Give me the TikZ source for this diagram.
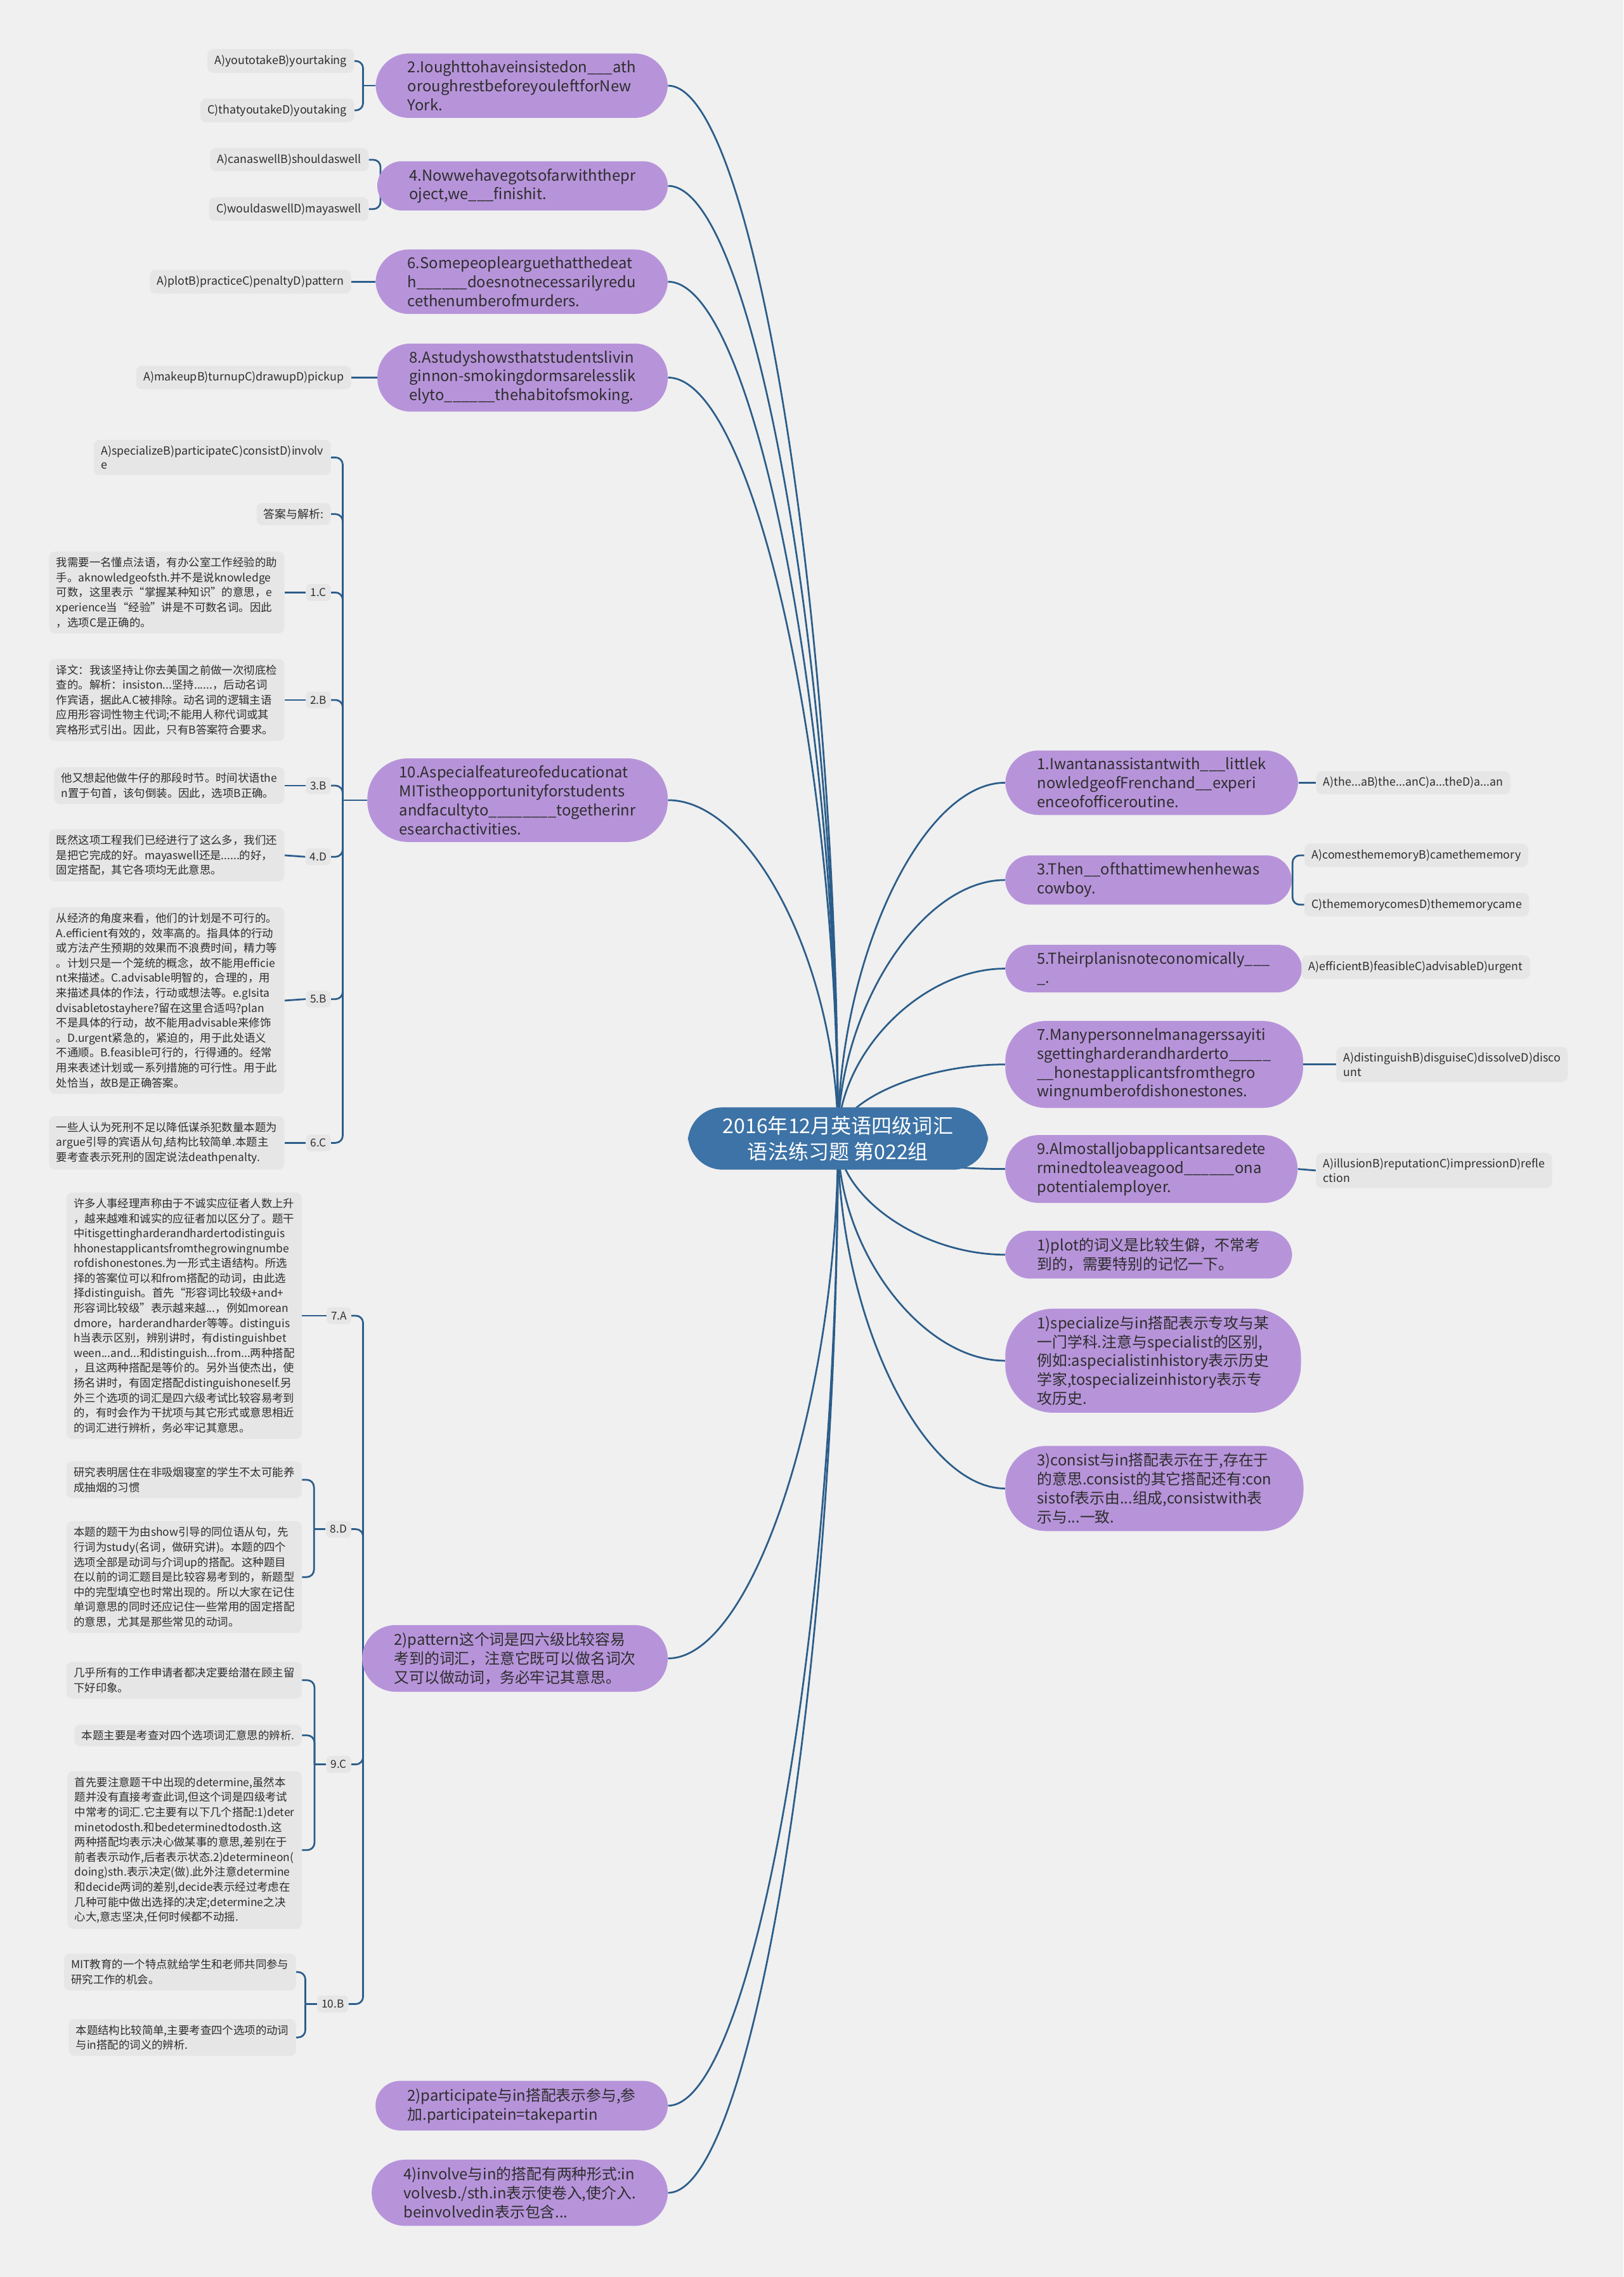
\documentclass[tikz,border=0pt]{standalone}
\usepackage{fontspec}
\setmainfont{Noto Sans CJK SC}
\usetikzlibrary{calc}
\definecolor{PageGray}{RGB}{240,240,240}
\definecolor{LeafGray}{RGB}{230,230,230}
\definecolor{TopicPurple}{RGB}{183,148,218}
\definecolor{RootBlue}{RGB}{61,115,166}
\definecolor{LinkBlue}{RGB}{43,93,138}
\definecolor{InkGray}{RGB}{45,45,45}
\pgfdeclarelayer{back}
\pgfdeclarelayer{links}
\pgfsetlayers{back,links,main}
\tikzset{
  root/.style={fill=RootBlue,text=white,rounded corners=24pt,align=center,
    inner xsep=24pt,inner ysep=6pt,font=\fontsize{14}{18}\selectfont},
  topic/.style={fill=TopicPurple,text=InkGray,rounded corners=#1,align=left,
    inner xsep=22pt,inner ysep=5pt,font=\fontsize{10.4}{13}\selectfont},
  topic/.default=23pt,
  opt/.style={fill=LeafGray,text=InkGray,rounded corners=4pt,align=left,
    inner xsep=5pt,inner ysep=4pt,font=\fontsize{7.8}{9.8}\selectfont},
  note/.style={fill=LeafGray,text=InkGray,rounded corners=4pt,align=left,
    inner xsep=5pt,inner ysep=4pt,font=\fontsize{7.6}{10.3}\selectfont},
  tag/.style={fill=LeafGray,text=InkGray,rounded corners=3pt,
    inner sep=3pt,font=\fontsize{7.5}{9}\selectfont},
  link/.style={draw=LinkBlue,line width=1.2pt},
  brace/.style={link,rounded corners=5pt},
}

\begin{document}
\begin{tikzpicture}[x=1pt,y=-1pt]
\useasboundingbox (0,0) rectangle (1118,1568);
\begin{pgfonlayer}{back}
\fill[PageGray] (0,0) rectangle (1118,1568);
\end{pgfonlayer}

% centre
\node[root] (root) at (577,784) {2016年12月英语四级词汇\\语法练习题 第022组};

% left topics
\node[topic,anchor=east] (q2) at (460,59) {2.Ioughttohaveinsistedon\_\_\_ath\\oroughrestbeforeyouleftforNew\\York.};
\node[topic=17pt,anchor=east] (q4) at (460,128) {4.Nowwehavegotsofarwiththepr\\oject,we\_\_\_finishit.};
\node[topic,anchor=east] (q6) at (460,194) {6.Somepeoplearguethatthedeat\\h\_\_\_\_\_\_doesnotnecessarilyredu\\cethenumberofmurders.};
\node[topic,anchor=east] (q8) at (460,260) {8.Astudyshowsthatstudentslivin\\ginnon-smokingdormsarelesslik\\elyto\_\_\_\_\_\_thehabitofsmoking.};
\node[topic=28pt,anchor=east] (q10) at (460,551) {10.Aspecialfeatureofeducationat\\MITistheopportunityforstudents\\andfacultyto\_\_\_\_\_\_\_\_togetherinr\\esearchactivities.};
\node[topic,anchor=east] (pat) at (460,1142) {2)pattern这个词是四六级比较容易\\考到的词汇，注意它既可以做名词次\\又可以做动词，务必牢记其意思。};
\node[topic=17pt,anchor=east] (part) at (460,1450) {2)participate与in搭配表示参与,参\\加.participatein=takepartin};
\node[topic,anchor=east] (invol) at (460,1510) {4)involve与in的搭配有两种形式:in\\volvesb./sth.in表示使卷入,使介入.\\beinvolvedin表示包含...};

% right topics
\node[topic,anchor=west] (q1) at (692,539) {1.Iwantanassistantwith\_\_\_littlek\\nowledgeofFrenchand\_\_experi\\enceofofficeroutine.};
\node[topic=17pt,anchor=west] (q3) at (692,606) {3.Then\_\_ofthattimewhenhewas\\cowboy.};
\node[topic=17pt,anchor=west] (q5) at (692,667) {5.Theirplanisnoteconomically\_\_\_\\\_.};
\node[topic=28pt,anchor=west] (q7) at (692,733) {7.Manypersonnelmanagerssayiti\\sgettingharderandharderto\_\_\_\_\_\\\_\_honestapplicantsfromthegro\\wingnumberofdishonestones.};
\node[topic,anchor=west] (q9) at (692,805) {9.Almostalljobapplicantsaredete\\rminedtoleaveagood\_\_\_\_\_\_ona\\potentialemployer.};
\node[topic=17pt,anchor=west] (plot) at (692,864) {1)plot的词义是比较生僻，不常考\\到的，需要特别的记忆一下。};
\node[topic=33pt,anchor=west] (spec) at (692,937) {1)specialize与in搭配表示专攻与某\\一门学科.注意与specialist的区别,\\例如:aspecialistinhistory表示历史\\学家,tospecializeinhistory表示专\\攻历史.};
\node[topic=28pt,anchor=west] (consist) at (692,1025) {3)consist与in搭配表示在于,存在于\\的意思.consist的其它搭配还有:con\\sistof表示由...组成,consistwith表\\示与...一致.};

% options
\node[opt,anchor=east] (q2a) at (244,42) {A)youtotakeB)yourtaking};
\node[opt,anchor=east] (q2b) at (244,76) {C)thatyoutakeD)youtaking};
\node[opt,anchor=east] (q4a) at (254,110) {A)canaswellB)shouldaswell};
\node[opt,anchor=east] (q4b) at (254,144) {C)wouldaswellD)mayaswell};
\node[opt,anchor=east] (q6a) at (242,194) {A)plotB)practiceC)penaltyD)pattern};
\node[opt,anchor=east] (q8a) at (242,260) {A)makeupB)turnupC)drawupD)pickup};
\node[opt,anchor=west] (q1a) at (906,539) {A)the...aB)the...anC)a...theD)a...an};
\node[opt,anchor=west] (q3a) at (898,589) {A)comesthememoryB)camethememory};
\node[opt,anchor=west] (q3b) at (898,623) {C)thememorycomesD)thememorycame};
\node[opt,anchor=west] (q5a) at (896,666) {A)efficientB)feasibleC)advisableD)urgent};
\node[opt,anchor=west] (q7a) at (920,733) {A)distinguishB)disguiseC)dissolveD)disco\\unt};
\node[opt,anchor=west] (q9a) at (906,806) {A)illusionB)reputationC)impressionD)refle\\ction};

% answers to 10
\node[opt,anchor=east] (q10a) at (228,315) {A)specializeB)participateC)consistD)involv\\e};
\node[opt,anchor=east] (ans) at (228,354) {答案与解析:};
\node[tag,anchor=east] (t1c) at (228,408) {1.C};
\node[tag,anchor=east] (t2b) at (228,482) {2.B};
\node[tag,anchor=east] (t3b) at (228,541) {3.B};
\node[tag,anchor=east] (t4d) at (228,590) {4.D};
\node[tag,anchor=east] (t5b) at (228,688) {5.B};
\node[tag,anchor=east] (t6c) at (228,787) {6.C};
\node[note,anchor=east] (n1c) at (196,408) {我需要一名懂点法语，有办公室工作经验的助\\手。aknowledgeofsth.并不是说knowledge\\可数，这里表示“掌握某种知识”的意思，e\\xperience当“经验”讲是不可数名词。因此\\，选项C是正确的。};
\node[note,anchor=east] (n2b) at (196,482) {译文：我该坚持让你去美国之前做一次彻底检\\查的。解析：insiston...坚持......，后动名词\\作宾语，据此A.C被排除。动名词的逻辑主语\\应用形容词性物主代词;不能用人称代词或其\\宾格形式引出。因此，只有B答案符合要求。};
\node[note,anchor=east] (n3b) at (196,541) {他又想起他做牛仔的那段时节。时间状语the\\n置于句首，该句倒装。因此，选项B正确。};
\node[note,anchor=east] (n4d) at (196,589) {既然这项工程我们已经进行了这么多，我们还\\是把它完成的好。mayaswell还是......的好，\\固定搭配，其它各项均无此意思。};
\node[note,anchor=east] (n5b) at (196,689) {从经济的角度来看，他们的计划是不可行的。\\A.efficient有效的，效率高的。指具体的行动\\或方法产生预期的效果而不浪费时间，精力等\\。计划只是一个笼统的概念，故不能用efficie\\nt来描述。C.advisable明智的，合理的，用\\来描述具体的作法，行动或想法等。e.gIsita\\dvisabletostayhere?留在这里合适吗?plan\\不是具体的行动，故不能用advisable来修饰\\。D.urgent紧急的，紧迫的，用于此处语义\\不通顺。B.feasible可行的，行得通的。经常\\用来表述计划或一系列措施的可行性。用于此\\处恰当，故B是正确答案。};
\node[note,anchor=east] (n6c) at (196,787) {一些人认为死刑不足以降低谋杀犯数量本题为\\argue引导的宾语从句,结构比较简单.本题主\\要考查表示死刑的固定说法deathpenalty.};

% answers under pattern
\node[tag,anchor=east] (t7a) at (242,906) {7.A};
\node[tag,anchor=east] (t8d) at (242,1053) {8.D};
\node[tag,anchor=east] (t9c) at (242,1215) {9.C};
\node[tag,anchor=east] (t10b) at (240,1380) {10.B};
\node[note,anchor=east] (n7a) at (208,906) {许多人事经理声称由于不诚实应征者人数上升\\，越来越难和诚实的应征者加以区分了。题干\\中itisgettingharderandhardertodistinguis\\hhonestapplicantsfromthegrowingnumbe\\rofdishonestones.为一形式主语结构。所选\\择的答案位可以和from搭配的动词，由此选\\择distinguish。首先“形容词比较级+and+\\形容词比较级”表示越来越...，例如morean\\dmore，harderandharder等等。distinguis\\h当表示区别，辨别讲时，有distinguishbet\\ween...and...和distinguish...from...两种搭配\\，且这两种搭配是等价的。另外当使杰出，使\\扬名讲时，有固定搭配distinguishoneself.另\\外三个选项的词汇是四六级考试比较容易考到\\的，有时会作为干扰项与其它形式或意思相近\\的词汇进行辨析，务必牢记其意思。};
\node[note,anchor=east] (n8a) at (208,1019) {研究表明居住在非吸烟寝室的学生不太可能养\\成抽烟的习惯};
\node[note,anchor=east] (n8b) at (208,1086) {本题的题干为由show引导的同位语从句，先\\行词为study(名词，做研究讲)。本题的四个\\选项全部是动词与介词up的搭配。这种题目\\在以前的词汇题目是比较容易考到的，新题型\\中的完型填空也时常出现的。所以大家在记住\\单词意思的同时还应记住一些常用的固定搭配\\的意思，尤其是那些常见的动词。};
\node[note,anchor=east] (n9a) at (208,1157) {几乎所有的工作申请者都决定要给潜在顾主留\\下好印象。};
\node[note,anchor=east] (n9b) at (208,1195) {本题主要是考查对四个选项词汇意思的辨析.};
\node[note,anchor=east] (n9c) at (208,1274) {首先要注意题干中出现的determine,虽然本\\题并没有直接考查此词,但这个词是四级考试\\中常考的词汇.它主要有以下几个搭配:1)deter\\minetodosth.和bedeterminedtodosth.这\\两种搭配均表示决心做某事的意思,差别在于\\前者表示动作,后者表示状态.2)determineon(\\doing)sth.表示决定(做).此外注意determine\\和decide两词的差别,decide表示经过考虑在\\几种可能中做出选择的决定;determine之决\\心大,意志坚决,任何时候都不动摇.};
\node[note,anchor=east] (n10a) at (204,1358) {MIT教育的一个特点就给学生和老师共同参与\\研究工作的机会。};
\node[note,anchor=east] (n10b) at (204,1403) {本题结构比较简单,主要考查四个选项的动词\\与in搭配的词义的辨析.};

\begin{pgfonlayer}{links}
% root to topics
\foreach \t in {q2,q4,q6,q8,q10,pat,part,invol}
  \draw[link] (root.center) .. controls ($(root.center)!.5!(root.center|-\t.east)$)
    and ($(\t.east)!.5!(root.center|-\t.east)$) .. (\t.east);
\foreach \t in {q1,q3,q5,q7,q9,plot,spec,consist}
  \draw[link] (root.center) .. controls ($(root.center)!.5!(root.center|-\t.west)$)
    and ($(\t.west)!.5!(root.center|-\t.west)$) .. (\t.west);
% options
\draw[link] (q2.west) -- (250,59) coordinate (j2);
\foreach \t in {q2a,q2b} \draw[brace] (j2) |- (\t.east);
\draw[link] (q4.west) -- (262,128) coordinate (j4);
\foreach \t in {q4a,q4b} \draw[brace] (j4) |- (\t.east);
\draw[link] (q6.west) -- (q6a.east);
\draw[link] (q8.west) -- (q8a.east);
\draw[link] (q1.east) -- (q1a.west);
\draw[link] (q3.east) -- (890,606) coordinate (j3);
\foreach \t in {q3a,q3b} \draw[brace] (j3) |- (\t.west);
\draw[link] (q5.east) -- (q5a.west);
\draw[link] (q7.east) -- (q7a.west);
\draw[link] (q9.east) -- (q9a.west);
% answers
\draw[link] (q10.west) -- (236,551) coordinate (j10);
\foreach \t in {q10a,ans,t1c,t2b,t3b,t4d,t5b,t6c} \draw[brace] (j10) |- (\t.east);
\foreach \a/\b in {t1c/n1c,t2b/n2b,t3b/n3b,t4d/n4d,t5b/n5b,t6c/n6c,t7a/n7a}
  \draw[link] (\a.west) -- (\b.east);
\draw[link] (pat.west) -- (250,1142) coordinate (jp);
\foreach \t in {t7a,t8d,t9c,t10b} \draw[brace] (jp) |- (\t.east);
\draw[link] (t8d.west) -- ++(-8,0) coordinate (j8);
\foreach \t in {n8a,n8b} \draw[brace] (j8) |- (\t.east);
\draw[link] (t9c.west) -- ++(-8,0) coordinate (j9);
\foreach \t in {n9a,n9b,n9c} \draw[brace] (j9) |- (\t.east);
\draw[link] (t10b.west) -- ++(-8,0) coordinate (j10b);
\foreach \t in {n10a,n10b} \draw[brace] (j10b) |- (\t.east);
\end{pgfonlayer}
\end{tikzpicture}
\end{document}
